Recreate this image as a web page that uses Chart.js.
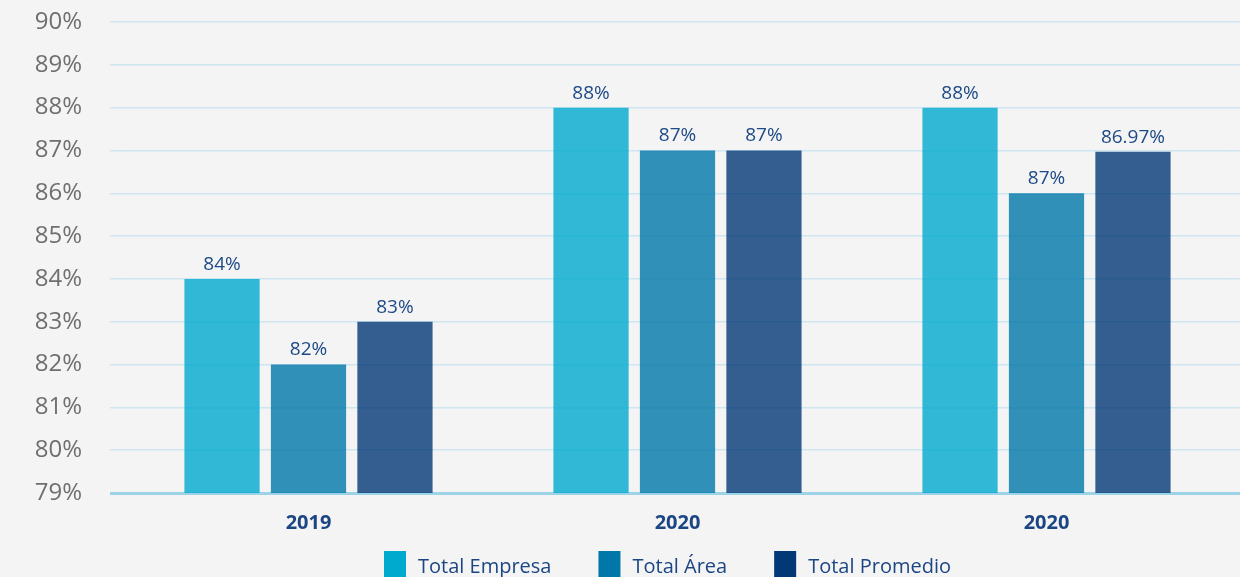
<!DOCTYPE html>
<html>
<head>
<meta charset="utf-8">
<script src="https://cdn.jsdelivr.net/npm/chart.js@4"></script>
<style>
  html, body { margin: 0; padding: 0; background: #f4f4f4; overflow: hidden; }
</style>
</head>
<body>
<canvas id="chart" width="1240" height="577"></canvas>
<script>
// ===== data =====
const categories = ['2019', '2020', '2020'];
const seriesNames = ['Total Empresa', 'Total Área', 'Total Promedio'];
const empresaValues = [84, 88, 88];
const areaValues = [82, 87, 86];
const promedioValues = [83, 87, 86.97];
const empresaLabels = ['84%', '88%', '88%'];
const areaLabels = ['82%', '87%', '87%'];
const promedioLabels = ['83%', '87%', '86.97%'];

const FONT = "'Open Sans', 'Noto Sans', sans-serif";
const GRID = '#cde6f0';
const BASE = '#9dd3e6';
const TEXT_BLUE = '#1c4683';
const legendColors = ['#00a9ce', '#0077a8', '#033876'];

// grid lines run a little left of the plot and on to the right edge
const gridTail = {
    id: 'gridTail',
    beforeDatasetsDraw(chart) {
        const ctx = chart.ctx;
        const y = chart.scales.y;
        const area = chart.chartArea;
        ctx.save();
        y.ticks.forEach(t => {
            const base = t.value === y.min;
            const w = base ? 3 : 1.5;
            // same pixel snapping the library uses for its own grid lines
            const py = Math.round(y.getPixelForValue(t.value) - w / 2) + w / 2;
            ctx.strokeStyle = base ? BASE : GRID;
            ctx.lineWidth = w;
            ctx.beginPath();
            ctx.moveTo(area.left - 14, py);
            ctx.lineTo(area.left + 1, py);
            ctx.moveTo(area.right - 1, py);
            ctx.lineTo(chart.width, py);
            ctx.stroke();
        });
        ctx.restore();
    }
};

// draw the text shown above each bar
const barLabels = {
    id: 'barLabels',
    afterDatasetsDraw(chart) {
        const ctx = chart.ctx;
        ctx.save();
        ctx.font = '19px ' + FONT;
        ctx.fillStyle = '#1d4a86';
        ctx.textAlign = 'center';
        ctx.textBaseline = 'bottom';
        chart.data.datasets.forEach((ds, i) => {
            const meta = chart.getDatasetMeta(i);
            meta.data.forEach((bar, j) => {
                ctx.fillText(ds.valueLabels[j], bar.x, bar.y - 5);
            });
        });
        ctx.restore();
    }
};

// legend along the bottom edge (partly cut off, like the source)
const bottomLegend = {
    id: 'bottomLegend',
    afterDraw(chart) {
        const ctx = chart.ctx;
        const area = chart.chartArea;
        const boxW = 22, boxH = 26, textGap = 12, itemGap = 47;
        const top = 551;
        ctx.save();
        ctx.font = '20px ' + FONT;
        const widths = seriesNames.map(n => boxW + textGap + ctx.measureText(n).width);
        const total = widths.reduce((a, b) => a + b, 0) + itemGap * (widths.length - 1);
        let x = (area.left + area.right) / 2 - total / 2 - 10;
        ctx.textBaseline = 'middle';
        ctx.textAlign = 'left';
        seriesNames.forEach((n, i) => {
            ctx.fillStyle = legendColors[i];
            ctx.fillRect(x, top, boxW, boxH);
            ctx.fillStyle = TEXT_BLUE;
            ctx.fillText(n, x + boxW + textGap, top + 16);
            x += widths[i] + itemGap;
        });
        ctx.restore();
    }
};

new Chart(document.getElementById('chart'), {
    type: 'bar',
    data: {
        labels: categories,
        datasets: [
            { label: seriesNames[0], data: empresaValues, valueLabels: empresaLabels,
              backgroundColor: 'rgba(0, 169, 206, 0.8)' },
            { label: seriesNames[1], data: areaValues, valueLabels: areaLabels,
              backgroundColor: 'rgba(0, 119, 168, 0.8)' },
            { label: seriesNames[2], data: promedioValues, valueLabels: promedioLabels,
              backgroundColor: 'rgba(3, 56, 118, 0.8)' }
        ]
    },
    options: {
        responsive: false,
        animation: false,
        barPercentage: 0.87,
        categoryPercentage: 0.703,
        layout: { padding: { top: 22, right: 9, left: 0, bottom: 38 } },
        plugins: {
            legend: { display: false },
            tooltip: { enabled: false }
        },
        scales: {
            y: {
                min: 79,
                max: 90,
                ticks: {
                    stepSize: 1,
                    color: '#6f6f6f',
                    padding: 0,
                    font: { family: FONT, size: 24 },
                    callback: v => v + '%'
                },
                grid: {
                    color: c => (c.tick && c.tick.value === 79) ? BASE : GRID,
                    lineWidth: c => (c.tick && c.tick.value === 79) ? 3 : 1.5,
                    tickLength: 42,
                    tickColor: 'rgba(0,0,0,0)'
                },
                border: { display: false },
                afterFit(scale) { scale.width = 124; }
            },
            x: {
                ticks: {
                    color: TEXT_BLUE,
                    padding: 10,
                    font: { family: FONT, size: 20, weight: 'bold' }
                },
                grid: { display: false },
                border: { display: false },
                afterFit(scale) { scale.height = 46; }
            }
        }
    },
    plugins: [gridTail, barLabels, bottomLegend]
});
</script>
</body>
</html>
